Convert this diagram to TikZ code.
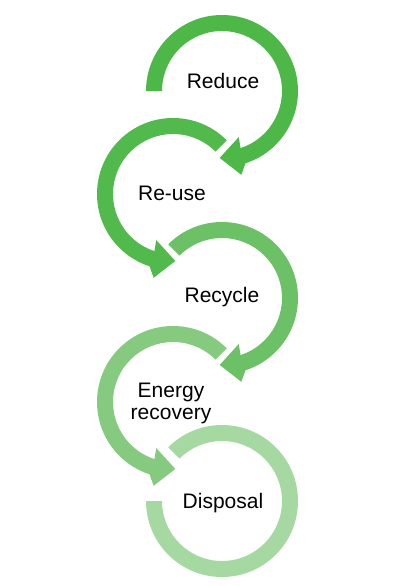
\documentclass[tikz,border=0pt]{standalone}
\usepackage{fontspec}
\setmainfont{Liberation Sans}
\usetikzlibrary{calc}
\definecolor{gA}{HTML}{4DB848}
\definecolor{gB}{HTML}{52BA4C}
\definecolor{gC}{HTML}{6CC066}
\definecolor{gD}{HTML}{86CA80}
\definecolor{gE}{HTML}{A6D8A1}
\tikzset{lbl/.style={font=\fontsize{21}{22}\selectfont, text=black, align=center, inner sep=0pt}}
% ring segment with arrow head: center, start angle, base angle, tip angle, colour, outer wing angle, inner wing angle
\newcommand{\ringarrow}[7]{%
  \fill[#5] ($(#1)+(#2:76)$) arc[start angle=#2, end angle=#3, radius=76]
    -- ($(#1)+(#6:86)$) -- ($(#1)+(#4:67)$) -- ($(#1)+(#7:49)$)
    -- ($(#1)+(#3:60)$) arc[start angle=#3, end angle=#2, radius=60] -- cycle;}
\begin{document}
\begin{tikzpicture}[x=1pt,y=1pt]
\useasboundingbox (0,0) rectangle (410,-586);
\coordinate (c1) at (222,-91);
\coordinate (c2) at (173,-194);
\coordinate (c3) at (222,-298);
\coordinate (c4) at (173,-402);
\coordinate (c5) at (222,-501);
% Disposal ring (no arrow)
\fill[gE] ($(c5)+(135:76)$) arc[start angle=135, end angle=-180, radius=76]
  -- ($(c5)+(180:60)$) arc[start angle=-180, end angle=135, radius=60] -- cycle;
\ringarrow{c4}{45}{252}{272}{gD}{257}{250}
\ringarrow{c3}{135}{-72}{-92}{gC}{-77}{-70}
\ringarrow{c2}{45}{252}{272}{gB}{257}{250}
\ringarrow{c1}{180}{-72}{-92}{gA}{-77}{-70}
\node[lbl] (reduce) at (223,-81) {Reduce};
\node[lbl] (reuse) at (172,-193) {Re-use};
\node[lbl] (recycle) at (222,-297) {Recycle};
\node[lbl] (energy) at (171,-403) {Energy\\recovery};
\node[lbl] (disposal) at (223,-503) {Disposal};
\end{tikzpicture}
\end{document}
